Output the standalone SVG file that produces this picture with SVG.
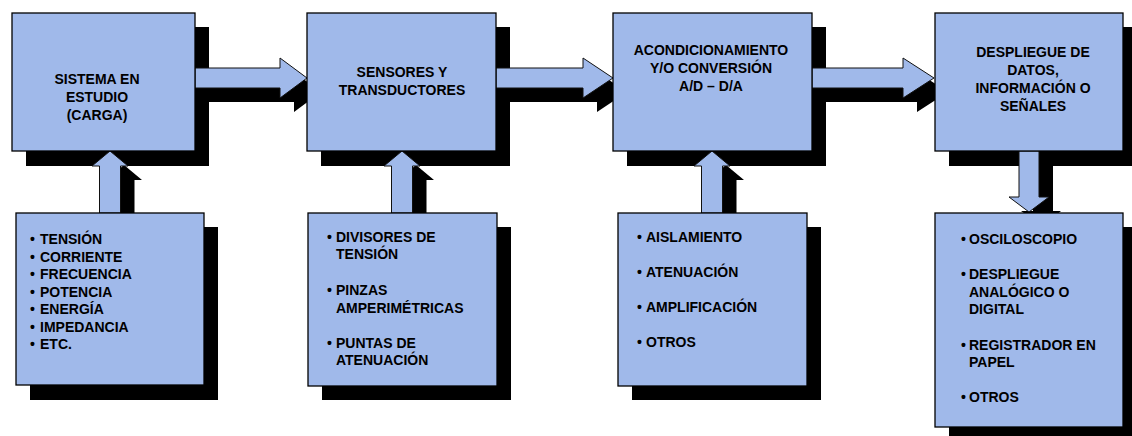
<svg xmlns="http://www.w3.org/2000/svg" width="1132" height="436" viewBox="0 0 1132 436">
<style>
.sh{fill:#000}
.box{fill:#A0B9EA;stroke:#000;stroke-width:1.3}
.arr{fill:#A0B9EA;stroke:#111;stroke-width:1}
text{font-family:"Liberation Sans",Arial,sans-serif;font-weight:bold;font-size:14px;fill:#000}
.c{text-anchor:middle}
</style>
<rect width="1132" height="436" fill="#fff"/>
<g id="shadows">
<rect class="sh" x="26" y="27" width="183" height="139"/>
<rect class="sh" x="321" y="27" width="189" height="139"/>
<rect class="sh" x="627" y="27" width="199" height="139"/>
<rect class="sh" x="949" y="27" width="188" height="139"/>
<rect class="sh" x="30" y="227" width="188" height="173"/>
<rect class="sh" x="322" y="227" width="189" height="173"/>
<rect class="sh" x="632" y="227" width="189" height="173"/>
<rect class="sh" x="949" y="227" width="188" height="214"/>
<path class="sh" d="M209,82 H294 V72 L321,92 L294,112 V102 H209 Z"/>
<path class="sh" d="M510,82 H597 V72 L627,92 L597,112 V102 H510 Z"/>
<path class="sh" d="M826,82 H917 V72 L948,92 L917,112 V102 H826 Z"/>
<path class="sh" d="M124,165 L142,180 H134.5 V227 H113.5 V180 H106 Z"/>
<path class="sh" d="M416,165 L434,180 H426.5 V227 H405.5 V180 H398 Z"/>
<path class="sh" d="M726,165 L744,180 H736.5 V227 H715.5 V180 H708 Z"/>
<path class="sh" d="M1033,165 H1053 V211 H1061 L1043,226 L1021,211 H1033 Z"/>
</g>
<g id="connectors">
<path class="arr" d="M195,68 H280 V58 L307,78 L280,98 V88 H195 Z"/>
<path class="arr" d="M496,68 H583 V58 L613,78 L583,98 V88 H496 Z"/>
<path class="arr" d="M812,68 H903 V58 L934,78 L903,98 V88 H812 Z"/>
<path class="arr" d="M110,151 L128,166 H120.5 V213 H99.5 V166 H92 Z"/>
<path class="arr" d="M402,151 L420,166 H412.5 V213 H391.5 V166 H384 Z"/>
<path class="arr" d="M712,151 L730,166 H722.5 V213 H701.5 V166 H694 Z"/>
<path class="arr" d="M1019,151 H1039 V197 H1049 L1029,212 L1009,197 H1019 Z"/>
</g>
<g id="n1">
<rect class="box" x="12" y="13" width="183" height="138"/>
<text class="c" x="97" y="84">SISTEMA EN</text>
<text class="c" x="97" y="102">ESTUDIO</text>
<text class="c" x="97" y="120">(CARGA)</text>
</g>
<g id="n2">
<rect class="box" x="307" y="13" width="189" height="138"/>
<text class="c" x="402" y="77">SENSORES Y</text>
<text class="c" x="402" y="95">TRANSDUCTORES</text>
</g>
<g id="n3">
<rect class="box" x="613" y="13" width="199" height="138"/>
<text class="c" x="711" y="55">ACONDICIONAMIENTO</text>
<text class="c" x="711" y="73">Y/O CONVERSIÓN</text>
<text class="c" x="711" y="91">A/D – D/A</text>
</g>
<g id="n4">
<rect class="box" x="935" y="13" width="188" height="138"/>
<text class="c" x="1033" y="57">DESPLIEGUE DE</text>
<text class="c" x="1033" y="75">DATOS,</text>
<text class="c" x="1033" y="93">INFORMACIÓN O</text>
<text class="c" x="1033" y="111">SEÑALES</text>
</g>
<g id="n5">
<rect class="box" x="16" y="213" width="188" height="172"/>
<text x="30" y="244">•</text><text x="40" y="244">TENSIÓN</text>
<text x="30" y="261.5">•</text><text x="40" y="261.5">CORRIENTE</text>
<text x="30" y="279">•</text><text x="40" y="279">FRECUENCIA</text>
<text x="30" y="296.5">•</text><text x="40" y="296.5">POTENCIA</text>
<text x="30" y="314">•</text><text x="40" y="314">ENERGÍA</text>
<text x="30" y="331.5">•</text><text x="40" y="331.5">IMPEDANCIA</text>
<text x="30" y="349">•</text><text x="40" y="349">ETC.</text>
</g>
<g id="n6">
<rect class="box" x="308" y="213" width="189" height="173"/>
<text x="327" y="242">•</text><text x="336" y="242">DIVISORES DE</text>
<text x="336" y="259">TENSIÓN</text>
<text x="327" y="295">•</text><text x="336" y="295">PINZAS</text>
<text x="336" y="313">AMPERIMÉTRICAS</text>
<text x="327" y="348">•</text><text x="336" y="348">PUNTAS DE</text>
<text x="336" y="365">ATENUACIÓN</text>
</g>
<g id="n7">
<rect class="box" x="618" y="213" width="189" height="173"/>
<text x="637" y="242">•</text><text x="646" y="242">AISLAMIENTO</text>
<text x="637" y="277">•</text><text x="646" y="277">ATENUACIÓN</text>
<text x="637" y="312">•</text><text x="646" y="312">AMPLIFICACIÓN</text>
<text x="637" y="347">•</text><text x="646" y="347">OTROS</text>
</g>
<g id="n8">
<rect class="box" x="935" y="213" width="188" height="214"/>
<text x="961" y="244">•</text><text x="969" y="244">OSCILOSCOPIO</text>
<text x="961" y="279">•</text><text x="969" y="279">DESPLIEGUE</text>
<text x="969" y="296.5">ANALÓGICO O</text>
<text x="969" y="314">DIGITAL</text>
<text x="961" y="350">•</text><text x="969" y="350">REGISTRADOR EN</text>
<text x="969" y="367">PAPEL</text>
<text x="961" y="402">•</text><text x="969" y="402">OTROS</text>
</g>
</svg>
